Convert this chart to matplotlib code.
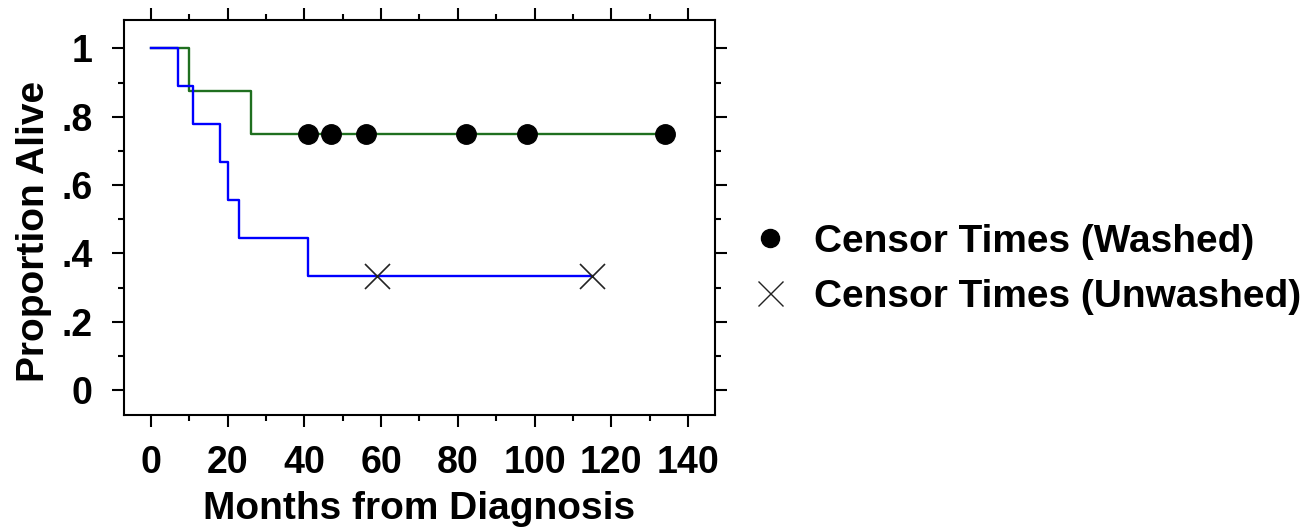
import numpy as np
import matplotlib
matplotlib.use('Agg')
import matplotlib.pyplot as plt
from matplotlib.lines import Line2D

# Kaplan-Meier step curves (time in months, proportion alive)
wash_t = [0, 10, 26, 134]
wash_s = [1.0, 0.875, 0.75, 0.75]
wash_censor = [41, 47, 56, 82, 98, 134]

unw_t = [0, 7, 11, 18, 20, 23, 41, 115]
unw_s = [1.0, 0.889, 0.778, 0.667, 0.556, 0.444, 0.333, 0.333]
unw_censor = [59, 115]

xticks = [0, 20, 40, 60, 80, 100, 120, 140]
yticks = [0, 0.2, 0.4, 0.6, 0.8, 1.0]
ytick_labels = ['0', '.2', '.4', '.6', '.8', '1']
legend_labels = ['Censor Times (Washed)', 'Censor Times (Unwashed)']


def surv_at(times, surv, t):
    # value of the step function (post) at time t
    i = np.searchsorted(times, t, side='right') - 1
    return np.asarray(surv)[i]


plt.rcParams['font.family'] = ['Liberation Sans', 'DejaVu Sans']
plt.rcParams['font.weight'] = 'bold'

fig = plt.figure(figsize=(13.04, 5.27), dpi=100)
ax = fig.add_axes([0.0951, 0.2125, 0.4532, 0.7495])

ax.step(wash_t, wash_s, where='post', color='#1f6f1f', lw=1.7)
ax.step(unw_t, unw_s, where='post', color='#0000ff', lw=1.7)

ax.plot(wash_censor, surv_at(wash_t, wash_s, wash_censor), 'o',
        color='black', ms=14, zorder=3)
ax.plot(unw_censor, surv_at(unw_t, unw_s, unw_censor), 'x',
        color='#222222', ms=18, mew=1.2, zorder=3)

ax.set_xlim(-7, 147)
ax.set_ylim(-0.073, 1.083)
ax.set_xticks(xticks)
ax.set_xticks(np.arange(10, 150, 20), minor=True)
ax.set_yticks(yticks)
ax.set_yticklabels(ytick_labels)
ax.set_yticks(np.arange(0.1, 1.0, 0.2), minor=True)

ax.tick_params(which='both', direction='out', top=True, right=True,
               width=1.5, labelsize=27)
ax.tick_params(which='major', length=8.5)
ax.tick_params(which='minor', length=4.5)
ax.tick_params(axis='x', pad=13)
ax.tick_params(axis='y', pad=14)
for sp in ax.spines.values():
    sp.set_linewidth(1.5)

ax.set_xlabel('Months from Diagnosis', fontsize=28, fontweight='bold',
              labelpad=7)
ax.set_ylabel('Proportion Alive', fontsize=28, fontweight='bold',
              labelpad=7, y=0.466)

handles = [Line2D([], [], ls='none', marker='o', color='black', ms=13),
           Line2D([], [], ls='none', marker='x', color='#222222', ms=18,
                  mew=1.0)]
fig.legend(handles, legend_labels, loc='center left',
           bbox_to_anchor=(750.5 / 1304, 0.489), frameon=False,
           fontsize=28, handlelength=1.0, handletextpad=0.62,
           labelspacing=0.475, borderpad=0, borderaxespad=0)

fig.savefig('out.png', dpi=100)
